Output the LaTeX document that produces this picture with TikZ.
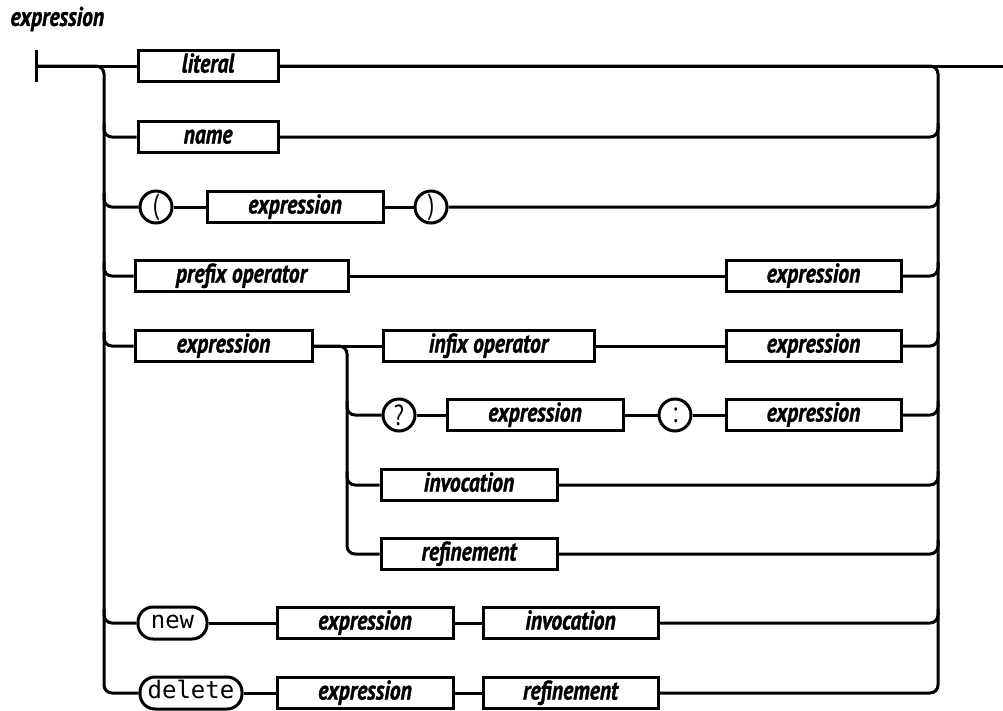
\documentclass[tikz,border=0pt]{standalone}
\usepackage{fontspec}
\newfontfamily\lblfont{PT Sans}[FakeStretch=0.8, BoldItalicFeatures={FakeBold=1.2}]
\newfontfamily\kwfont{DejaVu Sans Mono}
\usetikzlibrary{calc}
\tikzset{
  lbl/.style={font=\lblfont\fontsize{27}{29}\selectfont\bfseries\itshape},
  box/.style={lbl, draw, rectangle, minimum height=31pt, inner sep=0pt, text height=18pt, text depth=5pt},
  circ/.style={draw, circle, minimum size=32pt, inner sep=0pt, font=\lblfont\fontsize{29}{30}\selectfont},
  kw/.style={draw, rectangle, rounded corners=15pt, minimum height=32pt, inner sep=0pt, font=\kwfont\fontsize{24}{26}\selectfont, text height=15pt, text depth=4pt},
  rc/.style={rounded corners=8pt}
}
\begin{document}
\begin{tikzpicture}[x=1pt, y=-1pt, line width=3pt]
\useasboundingbox (0,0) rectangle (1003,710);
\node[lbl, anchor=west, inner sep=0pt] (title) at (9,19) {expression};
% row nodes
\node[box, minimum width=140pt] (lit) at (208,66) {literal};
\node[box, minimum width=140pt] (name) at (208,137) {name};
\node[circ] (lp) at (156,207) {(};
\node[box, minimum width=176pt] (pexp) at (295,207) {expression};
\node[circ] (rp) at (431,207) {)};
\node[box, minimum width=213pt] (pre) at (241.5,276) {prefix operator};
\node[box, minimum width=175pt] (preexp) at (813.5,276) {expression};
\node[box, minimum width=177pt] (lexp) at (223.5,346) {expression};
\node[box, minimum width=211pt] (inf) at (488.5,346) {infix operator};
\node[box, minimum width=175pt] (infexp) at (813.5,346) {expression};
\node[circ] (q) at (399,415) {?};
\node[box, minimum width=176pt] (qexp) at (535,415) {expression};
\node[circ] (col) at (675,415) {:};
\node[box, minimum width=175pt] (cexp) at (813.5,415) {expression};
\node[box, minimum width=176pt] (inv) at (469,485) {invocation};
\node[box, minimum width=176pt] (ref) at (469,554) {refinement};
\node[kw, minimum width=69pt] (new) at (172.5,623) {new};
\node[box, minimum width=176pt] (nexp) at (365,623) {expression};
\node[box, minimum width=175pt] (ninv) at (570.5,623) {invocation};
\node[kw, minimum width=102pt] (del) at (191,693) {delete};
\node[box, minimum width=176pt] (dexp) at (365,693) {expression};
\node[box, minimum width=175pt] (dref) at (570.5,693) {refinement};
% bus coordinates
\coordinate (start) at (36,66);
\coordinate (exit) at (1003,66);
\coordinate (L) at (104,0);
\coordinate (R) at (938,0);
\coordinate (M) at (347,0);
% start bar and main line
\draw ($(start)+(0,-16)$) -- ($(start)+(0,16)$);
\draw (start) -- (lit.west);
\draw (lit.east) -- (exit);
% left and right buses
\draw[rc] (start) -- (L|-lit) -- (L|-del) -- (del.west);
\draw[rc] (lit.east) -- (R|-lit) -- (R|-dref) -- (dref.east);
\foreach \n in {name,lp,pre,lexp,new}
  \draw[rc] ($(L|-\n)+(0,-14)$) -- (L|-\n) -- (\n.west);
\foreach \n in {name,rp,preexp,infexp,cexp,inv,ref,ninv}
  \draw[rc] (\n.east) -- (R|-\n) -- ($(R|-\n)+(0,-14)$);
% inner bus
\draw[rc] (lexp.east) -- (M|-lexp) -- (M|-ref) -- (ref.west);
\foreach \n in {q,inv}
  \draw[rc] ($(M|-\n)+(0,-14)$) -- (M|-\n) -- (\n.west);
% row chains
\draw (lp) -- (pexp) -- (rp);
\draw (pre) -- (preexp);
\draw (lexp.east) -- (inf.west);
\draw (inf) -- (infexp);
\draw (q) -- (qexp) -- (col) -- (cexp);
\draw (new) -- (nexp) -- (ninv);
\draw (del) -- (dexp) -- (dref);
\end{tikzpicture}
\end{document}
